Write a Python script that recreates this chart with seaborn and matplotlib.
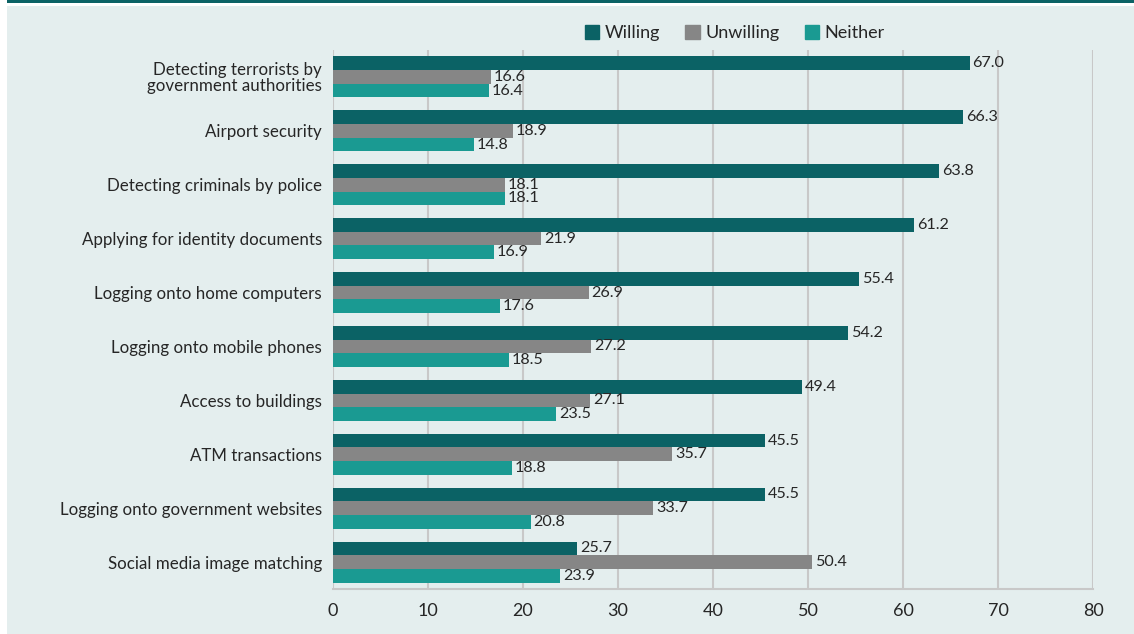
import matplotlib
matplotlib.use("Agg")
import matplotlib.pyplot as plt
import matplotlib.patches as mpatches
import pandas as pd
import seaborn as sns

categories = [
    "Detecting terrorists by\ngovernment authorities",
    "Airport security",
    "Detecting criminals by police",
    "Applying for identity documents",
    "Logging onto home computers",
    "Logging onto mobile phones",
    "Access to buildings",
    "ATM transactions",
    "Logging onto government websites",
    "Social media image matching",
]
willing = [67.0, 66.3, 63.8, 61.2, 55.4, 54.2, 49.4, 45.5, 45.5, 25.7]
unwilling = [16.6, 18.9, 18.1, 21.9, 26.9, 27.2, 27.1, 35.7, 33.7, 50.4]
neither = [16.4, 14.8, 18.1, 16.9, 17.6, 18.5, 23.5, 18.8, 20.8, 23.9]
series_names = ["Willing", "Unwilling", "Neither"]
x_ticks = [0, 10, 20, 30, 40, 50, 60, 70, 80]

colors = {"Willing": "#0b6265", "Unwilling": "#868686", "Neither": "#1a9a92"}
bg = "#e4eeee"
text_color = "#262626"

df = pd.DataFrame({
    "category": categories * 3,
    "series": [s for s in series_names for _ in categories],
    "value": willing + unwilling + neither,
})

sns.set_theme(style="white")
plt.rcParams["font.family"] = ["Lato", "DejaVu Sans"]

fig = plt.figure(figsize=(11.34, 6.34), dpi=100, facecolor=bg)
ax = fig.add_axes([333 / 1134, 1 - 589 / 634, 760 / 1134, 539 / 634])
ax.set_facecolor(bg)

sns.barplot(
    data=df, x="value", y="category", hue="series",
    order=categories, hue_order=series_names,
    palette=colors, orient="h", width=0.76, gap=0,
    saturation=1, ax=ax, legend=False, edgecolor="none", linewidth=0,
)

for container in ax.containers:
    ax.bar_label(container, fmt="%.1f", padding=2, fontsize=11.6, color=text_color)

ax.set_xlim(0, 80)
ax.set_ylim(9.5, -0.5)
ax.set_xticks(x_ticks)
ax.xaxis.grid(True, color="#c8c8c8", linewidth=1.5)
ax.set_axisbelow(True)
for side in ["top", "right", "left"]:
    ax.spines[side].set_visible(False)
ax.spines["bottom"].set_color("#c8c8c8")
ax.spines["bottom"].set_linewidth(1.5)
ax.tick_params(axis="x", length=4, width=1.5, color="#c8c8c8",
               labelsize=13, labelcolor=text_color, pad=6)
ax.tick_params(axis="y", length=0, labelsize=12.2, labelcolor=text_color, pad=8)
for lbl in ax.get_yticklabels():
    lbl.set_linespacing(1.0)
ax.set_xlabel("")
ax.set_ylabel("")

handles = [mpatches.Patch(color=colors[s], label=s) for s in series_names]
fig.legend(handles=handles, loc="center", bbox_to_anchor=(0.648, 1 - 33 / 634),
           ncol=3, frameon=False, fontsize=13, handlelength=0.8, handleheight=0.8,
           handletextpad=0.3, columnspacing=1.4, labelcolor=text_color)

# frame decoration: white strip on the left and a teal rule along the top
fig.patches.append(mpatches.Rectangle((0, 0), 7 / 1134, 1, transform=fig.transFigure,
                                      facecolor="white", edgecolor="none", zorder=0))
fig.patches.append(mpatches.Rectangle((0, 1 - 6 / 634), 1, 6 / 634, transform=fig.transFigure,
                                      facecolor="white", edgecolor="none", zorder=0))
fig.patches.append(mpatches.Rectangle((7 / 1134, 1 - 3 / 634), 1, 3 / 634, transform=fig.transFigure,
                                      facecolor="#0b6265", edgecolor="none", zorder=1))

fig.savefig("out.png", dpi=100, facecolor=bg)
